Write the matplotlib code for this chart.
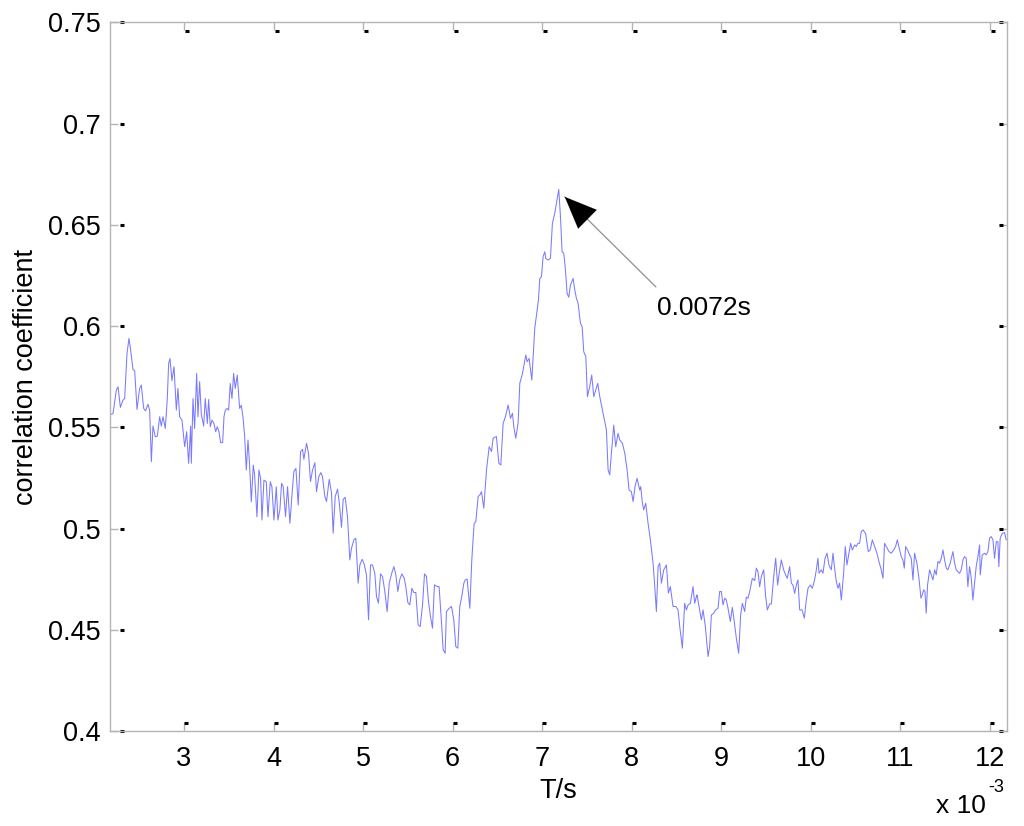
import numpy as np
import matplotlib
matplotlib.use("Agg")
import matplotlib.pyplot as plt
from matplotlib.ticker import FuncFormatter
from matplotlib.transforms import blended_transform_factory, ScaledTranslation

plt.rcParams['font.family'] = ['Liberation Sans', 'DejaVu Sans']

#------------------------------------------------------------------------------------
# Data (time lag in ms, correlation coefficient)
#------------------------------------------------------------------------------------
t_ms = [
    2.182, 2.208, 2.245, 2.264, 2.290, 2.319, 2.338, 2.364, 2.386, 2.405,
    2.431, 2.450, 2.476, 2.505, 2.524, 2.550, 2.572, 2.598, 2.617, 2.636,
    2.654, 2.680, 2.703, 2.729, 2.747, 2.766, 2.792, 2.814, 2.829, 2.844,
    2.866, 2.889, 2.915, 2.933, 2.952, 2.978, 3.008, 3.030, 3.052, 3.075,
    3.082, 3.101, 3.119, 3.142, 3.156, 3.175, 3.194, 3.220, 3.238, 3.261,
    3.276, 3.294, 3.313, 3.335, 3.354, 3.372, 3.391, 3.409, 3.432, 3.447,
    3.462, 3.480, 3.499, 3.517, 3.536, 3.555, 3.573, 3.595, 3.622, 3.640,
    3.659, 3.677, 3.696, 3.715, 3.733, 3.752, 3.774, 3.789, 3.815, 3.837,
    3.856, 3.871, 3.893, 3.919, 3.938, 3.964, 3.982, 4.005, 4.031, 4.049,
    4.071, 4.090, 4.108, 4.134, 4.157, 4.183, 4.209, 4.227, 4.250, 4.276,
    4.302, 4.324, 4.339, 4.369, 4.391, 4.413, 4.436, 4.462, 4.480, 4.506,
    4.529, 4.547, 4.573, 4.592, 4.622, 4.648, 4.666, 4.689, 4.715, 4.733,
    4.759, 4.778, 4.800, 4.826, 4.852, 4.871, 4.897, 4.919, 4.945, 4.964,
    4.990, 5.012, 5.038, 5.061, 5.083, 5.105, 5.131, 5.150, 5.172, 5.195,
    5.217, 5.243, 5.269, 5.292, 5.318, 5.344, 5.366, 5.388, 5.411, 5.433,
    5.459, 5.477, 5.500, 5.522, 5.545, 5.567, 5.589, 5.615, 5.638, 5.664,
    5.686, 5.708, 5.730, 5.753, 5.775, 5.797, 5.827, 5.849, 5.875, 5.894,
    5.916, 5.931, 5.961, 5.987, 6.013, 6.035, 6.058, 6.080, 6.102, 6.125,
    6.140, 6.162, 6.192, 6.214, 6.240, 6.259, 6.285, 6.304, 6.322, 6.348,
    6.378, 6.408, 6.434, 6.452, 6.489, 6.516, 6.538, 6.564, 6.590, 6.620,
    6.646, 6.668, 6.683, 6.705, 6.731, 6.750, 6.780, 6.817, 6.832, 6.854,
    6.884, 6.899, 6.917, 6.943, 6.958, 6.973, 6.992, 7.010, 7.029, 7.040,
    7.066, 7.092, 7.114, 7.140, 7.159, 7.185, 7.204, 7.222, 7.241, 7.260,
    7.278, 7.297, 7.315, 7.345, 7.364, 7.382, 7.401, 7.427, 7.446, 7.464,
    7.487, 7.505, 7.531, 7.553, 7.576, 7.598, 7.620, 7.643, 7.680, 7.717,
    7.736, 7.754, 7.773, 7.799, 7.821, 7.847, 7.866, 7.896, 7.922, 7.948,
    7.970, 7.996, 8.015, 8.037, 8.059, 8.089, 8.100, 8.119, 8.134, 8.156,
    8.182, 8.208, 8.238, 8.257, 8.275, 8.294, 8.312, 8.331, 8.357, 8.387,
    8.409, 8.431, 8.461, 8.491, 8.517, 8.536, 8.565, 8.591, 8.610, 8.629,
    8.655, 8.684, 8.703, 8.722, 8.729, 8.751, 8.777, 8.796, 8.822, 8.852,
    8.870, 8.889, 8.915, 8.937, 8.963, 8.982, 9.000, 9.019, 9.038, 9.056,
    9.075, 9.101, 9.123, 9.142, 9.168, 9.194, 9.216, 9.235, 9.261, 9.279,
    9.298, 9.317, 9.346, 9.373, 9.391, 9.410, 9.428, 9.447, 9.473, 9.495,
    9.514, 9.540, 9.559, 9.585, 9.607, 9.629, 9.644, 9.670, 9.696, 9.718,
    9.737, 9.763, 9.782, 9.800, 9.819, 9.838, 9.856, 9.875, 9.901, 9.927,
    9.949, 9.968, 9.994, 10.016, 10.042, 10.061, 10.079, 10.091, 10.117, 10.135,
    10.158, 10.180, 10.202, 10.228, 10.247, 10.265, 10.284, 10.303, 10.321, 10.340,
    10.366, 10.384, 10.403, 10.425, 10.444, 10.463, 10.489, 10.507, 10.526, 10.544,
    10.563, 10.582, 10.611, 10.641, 10.663, 10.686, 10.712, 10.738, 10.760, 10.786,
    10.805, 10.823, 10.842, 10.872, 10.898, 10.924, 10.946, 10.965, 10.983, 11.009,
    11.028, 11.043, 11.058, 11.080, 11.102, 11.121, 11.140, 11.158, 11.184, 11.207,
    11.229, 11.244, 11.259, 11.274, 11.288, 11.303, 11.326, 11.344, 11.363, 11.382,
    11.400, 11.419, 11.437, 11.456, 11.475, 11.493, 11.512, 11.530, 11.556, 11.586,
    11.605, 11.623, 11.642, 11.660, 11.679, 11.698, 11.716, 11.735, 11.753, 11.772,
    11.791, 11.809, 11.828, 11.846, 11.865, 11.884, 11.891, 11.914, 11.940, 11.958,
    11.977, 11.995, 12.014, 12.033, 12.051, 12.070, 12.088, 12.099, 12.114, 12.137,
    12.163, 12.181,
]

corr = [
    0.5563, 0.5568, 0.5684, 0.5700, 0.5598, 0.5634, 0.5642, 0.5864, 0.5939, 0.5881,
    0.5785, 0.5779, 0.5588, 0.5692, 0.5708, 0.5593, 0.5581, 0.5614, 0.5585, 0.5330,
    0.5506, 0.5453, 0.5456, 0.5552, 0.5506, 0.5552, 0.5494, 0.5642, 0.5815, 0.5840,
    0.5730, 0.5799, 0.5585, 0.5692, 0.5552, 0.5535, 0.5404, 0.5478, 0.5322, 0.5506,
    0.5322, 0.5642, 0.5494, 0.5766, 0.5552, 0.5725, 0.5565, 0.5506, 0.5642, 0.5519,
    0.5637, 0.5503, 0.5535, 0.5519, 0.5478, 0.5503, 0.5478, 0.5424, 0.5424, 0.5552,
    0.5585, 0.5593, 0.5585, 0.5716, 0.5642, 0.5766, 0.5692, 0.5758, 0.5593, 0.5609,
    0.5552, 0.5461, 0.5289, 0.5437, 0.5313, 0.5132, 0.5313, 0.5264, 0.5058, 0.5289,
    0.5247, 0.5042, 0.5239, 0.5231, 0.5058, 0.5231, 0.5206, 0.5042, 0.5206, 0.5042,
    0.5092, 0.5223, 0.5207, 0.5059, 0.5207, 0.5026, 0.5182, 0.5281, 0.5297, 0.5116,
    0.5380, 0.5391, 0.5342, 0.5421, 0.5371, 0.5232, 0.5289, 0.5325, 0.5182, 0.5256,
    0.5276, 0.5256, 0.5158, 0.5133, 0.5243, 0.5174, 0.4977, 0.5158, 0.5194, 0.5133,
    0.5006, 0.5144, 0.5154, 0.5059, 0.4845, 0.4903, 0.4944, 0.4952, 0.4730, 0.4820,
    0.4848, 0.4825, 0.4771, 0.4549, 0.4820, 0.4820, 0.4779, 0.4664, 0.4631, 0.4776,
    0.4763, 0.4689, 0.4590, 0.4730, 0.4776, 0.4812, 0.4771, 0.4689, 0.4750, 0.4776,
    0.4755, 0.4713, 0.4634, 0.4623, 0.4705, 0.4684, 0.4684, 0.4524, 0.4516, 0.4623,
    0.4776, 0.4763, 0.4639, 0.4565, 0.4508, 0.4722, 0.4713, 0.4713, 0.4541, 0.4401,
    0.4384, 0.4590, 0.4606, 0.4615, 0.4549, 0.4417, 0.4409, 0.4615, 0.4664, 0.4730,
    0.4746, 0.4750, 0.4606, 0.4845, 0.5026, 0.5034, 0.5158, 0.5166, 0.5182, 0.5100,
    0.5289, 0.5404, 0.5380, 0.5446, 0.5454, 0.5322, 0.5314, 0.5520, 0.5553, 0.5610,
    0.5544, 0.5569, 0.5503, 0.5446, 0.5520, 0.5717, 0.5766, 0.5857, 0.5824, 0.5840,
    0.5733, 0.5849, 0.5988, 0.6079, 0.6128, 0.6235, 0.6244, 0.6342, 0.6367, 0.6334,
    0.6326, 0.6334, 0.6507, 0.6556, 0.6605, 0.6675, 0.6540, 0.6367, 0.6359, 0.6276,
    0.6161, 0.6142, 0.6202, 0.6235, 0.6178, 0.6137, 0.6112, 0.6013, 0.5997, 0.5873,
    0.5849, 0.5651, 0.5701, 0.5758, 0.5651, 0.5684, 0.5717, 0.5651, 0.5569, 0.5487,
    0.5289, 0.5265, 0.5372, 0.5511, 0.5404, 0.5470, 0.5437, 0.5421, 0.5372, 0.5289,
    0.5190, 0.5182, 0.5133, 0.5207, 0.5248, 0.5190, 0.5207, 0.5125, 0.5092, 0.5125,
    0.5026, 0.4944, 0.4829, 0.4713, 0.4590, 0.4812, 0.4829, 0.4730, 0.4796, 0.4820,
    0.4681, 0.4713, 0.4615, 0.4615, 0.4598, 0.4516, 0.4409, 0.4631, 0.4598, 0.4623,
    0.4631, 0.4713, 0.4631, 0.4664, 0.4672, 0.4615, 0.4549, 0.4598, 0.4516, 0.4368,
    0.4417, 0.4573, 0.4582, 0.4598, 0.4606, 0.4689, 0.4689, 0.4623, 0.4656, 0.4647,
    0.4606, 0.4541, 0.4611, 0.4549, 0.4458, 0.4384, 0.4573, 0.4631, 0.4590, 0.4661,
    0.4656, 0.4689, 0.4754, 0.4743, 0.4804, 0.4787, 0.4713, 0.4763, 0.4796, 0.4664,
    0.4598, 0.4628, 0.4628, 0.4763, 0.4853, 0.4721, 0.4771, 0.4845, 0.4796, 0.4771,
    0.4754, 0.4812, 0.4730, 0.4721, 0.4680, 0.4721, 0.4746, 0.4598, 0.4598, 0.4557,
    0.4647, 0.4705, 0.4721, 0.4705, 0.4746, 0.4796, 0.4853, 0.4779, 0.4796, 0.4779,
    0.4853, 0.4878, 0.4820, 0.4796, 0.4878, 0.4804, 0.4738, 0.4705, 0.4730, 0.4647,
    0.4779, 0.4911, 0.4820, 0.4878, 0.4927, 0.4894, 0.4919, 0.4911, 0.4927, 0.4927,
    0.4985, 0.4993, 0.4976, 0.4886, 0.4894, 0.4944, 0.4911, 0.4878, 0.4837, 0.4796,
    0.4754, 0.4927, 0.4911, 0.4886, 0.4878, 0.4894, 0.4911, 0.4944, 0.4911, 0.4861,
    0.4845, 0.4804, 0.4911, 0.4894, 0.4870, 0.4853, 0.4746, 0.4878, 0.4829, 0.4754,
    0.4656, 0.4672, 0.4697, 0.4689, 0.4582, 0.4721, 0.4796, 0.4771, 0.4746, 0.4796,
    0.4771, 0.4837, 0.4829, 0.4853, 0.4894, 0.4845, 0.4804, 0.4796, 0.4829, 0.4886,
    0.4829, 0.4796, 0.4787, 0.4779, 0.4796, 0.4845, 0.4861, 0.4853, 0.4713, 0.4812,
    0.4754, 0.4647, 0.4730, 0.4812, 0.4861, 0.4919, 0.4771, 0.4870, 0.4878, 0.4870,
    0.4886, 0.4952, 0.4960, 0.4944, 0.4853, 0.4935, 0.4935, 0.4812, 0.4952, 0.4976,
    0.4980, 0.4944,
]

assert len(t_ms) == len(corr)

peak_label = '0.0072s'
peak_tip = (7.252e-3, 0.6638)
label_pos = (8.27e-3, 0.6193)

x_ticks = [3e-3, 4e-3, 5e-3, 6e-3, 7e-3, 8e-3, 9e-3, 10e-3, 11e-3, 12e-3]
y_ticks = [0.4, 0.45, 0.5, 0.55, 0.6, 0.65, 0.7, 0.75]

t = np.array(t_ms) * 1e-3

#------------------------------------------------------------------------------------
# Figure
#------------------------------------------------------------------------------------
fig = plt.figure(figsize=(10.24, 8.26), dpi=100)
ax = fig.add_axes([0.1074, 0.115, 0.876, 0.858])

ax.plot(t, corr, color='#7a7aff', linewidth=0.75)

ax.set_xlim(2.174e-3, 12.19e-3)
ax.set_ylim(0.4, 0.75)
ax.set_xticks(x_ticks)
ax.set_yticks(y_ticks)
ax.xaxis.set_major_formatter(FuncFormatter(lambda v, p: '%g' % round(v * 1e3, 6)))
ax.yaxis.set_major_formatter(FuncFormatter(lambda v, p: '%g' % round(v, 4)))

gray = '#b4b4b4'
for s in ax.spines.values():
    s.set_color(gray)
    s.set_linewidth(1.0)
ax.tick_params(direction='in', length=6, width=1.0, color=gray, labelsize=19.5,
               top=True, right=True, labelcolor='black')
ax.tick_params(axis='x', pad=11)
ax.tick_params(axis='y', pad=7)

ax.set_xlabel('T/s', fontsize=19.5, labelpad=4)
ax.set_ylabel('correlation coefficient', fontsize=19.5, labelpad=6)

# little black dashes at the tick tips (as in the exported MATLAB figure)
def tip_mark(trans, dx, dy):
    return trans + ScaledTranslation(dx / 100.0, dy / 100.0, fig.dpi_scale_trans)

bx = blended_transform_factory(ax.transData, ax.transAxes)
by = blended_transform_factory(ax.transAxes, ax.transData)
dash = dict(marker='_', ms=3.5, mew=2.2, color='black', clip_on=False, linestyle='none')
for v in x_ticks:
    ax.plot([v], [0], transform=tip_mark(bx, 2, 8), **dash)
    ax.plot([v], [1], transform=tip_mark(bx, 3, -9), **dash)
for v in y_ticks:
    ax.plot([0], [v], transform=tip_mark(by, 12, 0), **dash)
    ax.plot([1], [v], transform=tip_mark(by, -6, 0), **dash)

# annotation: gray shaft + black head
ax.annotate('', xy=peak_tip, xytext=label_pos,
            arrowprops=dict(arrowstyle='-', color='#909090', lw=0.9,
                            shrinkA=0, shrinkB=0))
head_start = (peak_tip[0] + 0.2 * (label_pos[0] - peak_tip[0]),
              peak_tip[1] + 0.2 * (label_pos[1] - peak_tip[1]))
ax.annotate('', xy=peak_tip, xytext=head_start,
            arrowprops=dict(arrowstyle='-|>,head_length=1.2,head_width=0.5',
                            color='black', lw=0.1, shrinkA=0, shrinkB=0,
                            mutation_scale=19))
ax.text(label_pos[0] + 0.01e-3, label_pos[1] - 0.0045, peak_label, fontsize=19,
        ha='left', va='top')

# x 10^-3 multiplier
fig.text(0.9625, 0.0155, 'x 10', fontsize=19, ha='right', va='baseline')
fig.text(0.9655, 0.041, '-3', fontsize=13, ha='left', va='baseline')

plt.savefig('out.png', dpi=100)
plt.close()
